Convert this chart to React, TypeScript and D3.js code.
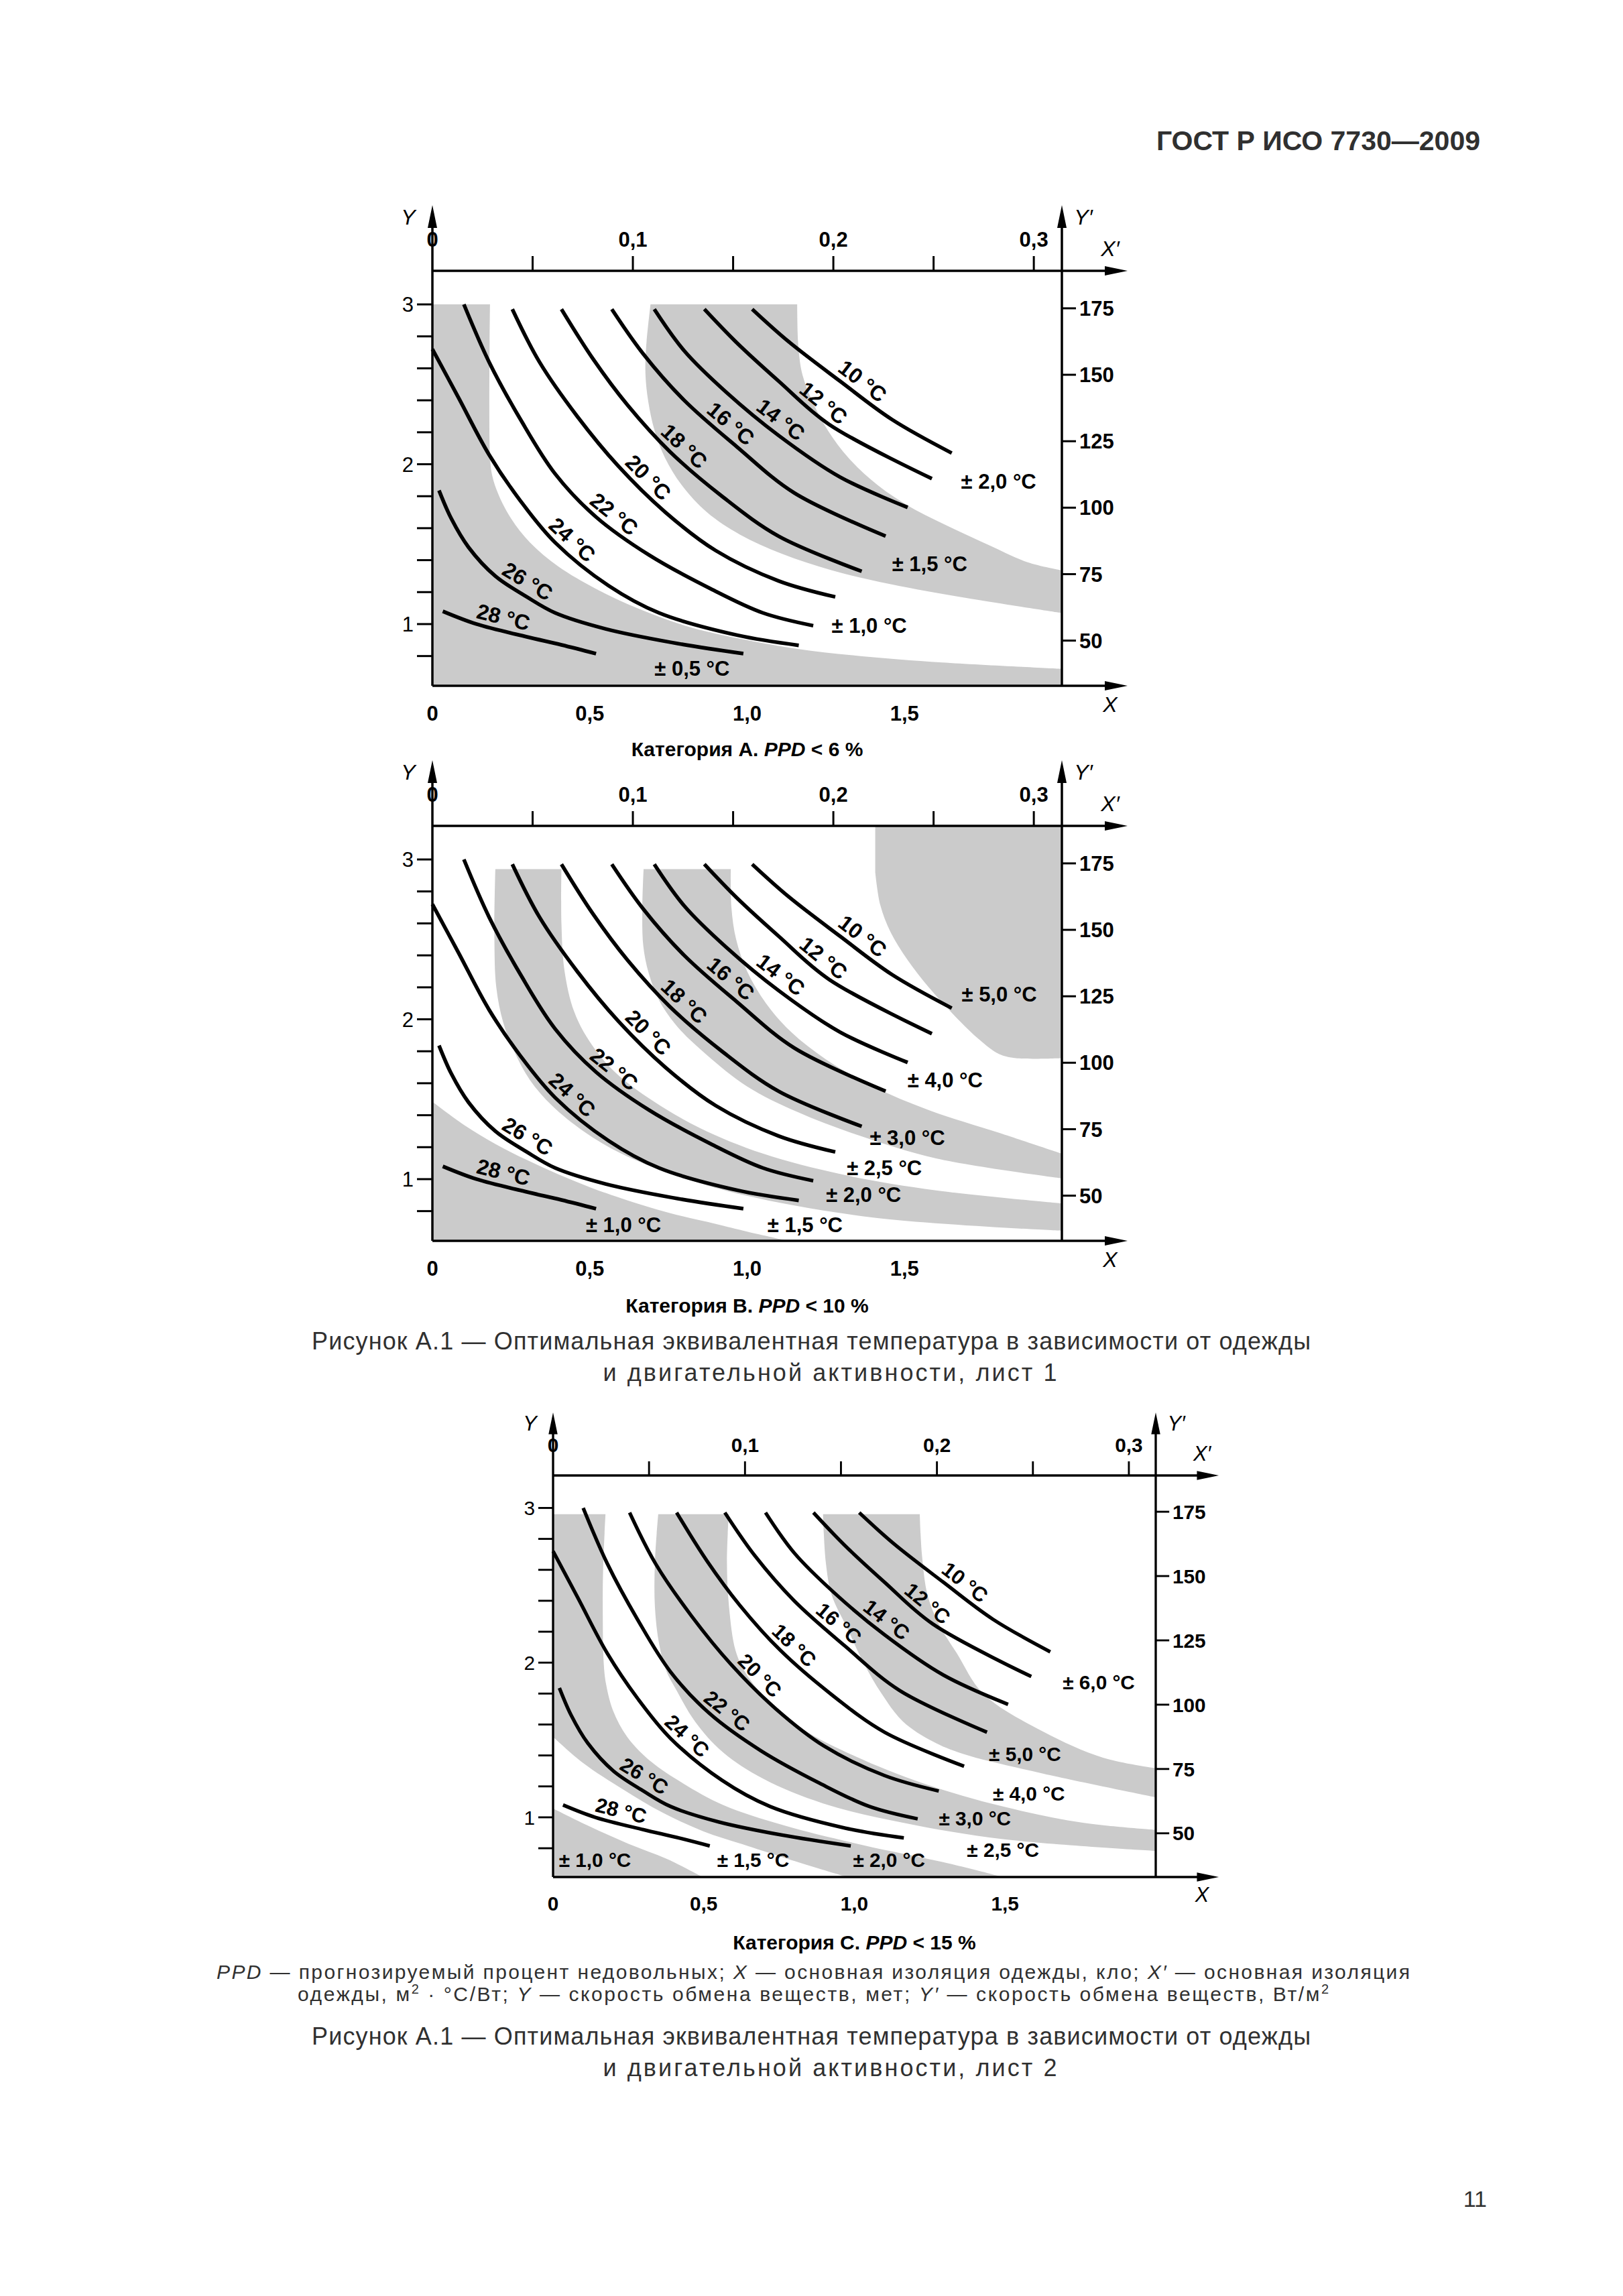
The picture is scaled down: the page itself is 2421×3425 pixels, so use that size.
import React, { useEffect, useRef } from 'react';
import * as d3 from 'd3';

type Pt = [number, number];

// ---- axis domains and ticks ----
const X_DOMAIN: Pt = [0, 2.0]; // clo
const Y_DOMAIN: Pt = [0.614, 3.21]; // met
const XP_DOMAIN: Pt = [0, 0.314]; // m2·°C/W
const YP_DOMAIN: Pt = [33.0, 189.1]; // W/m2
const yTicks = [0.8, 1.0, 1.2, 1.4, 1.6, 1.8, 2.0, 2.2, 2.4, 2.6, 2.8, 3.0];
const yTickLabels = [1, 2, 3];
const ypTicks = [50, 75, 100, 125, 150, 175];
const xTickLabels = [0, 0.5, 1.0, 1.5];
const xpTicks = [0.05, 0.1, 0.15, 0.2, 0.25, 0.3];
const xpTickLabels = [0, 0.1, 0.2, 0.3];

// ---- optimal operative temperature lines (clo, met) ----
const temperatures = [10, 12, 14, 16, 18, 20, 22, 24, 26, 28];
const curve10: Pt[] = [[1.016, 2.97], [1.13, 2.77], [1.295, 2.52], [1.46, 2.28], [1.65, 2.07]];
const curve12: Pt[] = [[0.864, 2.97], [0.967, 2.76], [1.1, 2.52], [1.26, 2.25], [1.587, 1.91]];
const curve14: Pt[] = [[0.705, 2.97], [0.8, 2.71], [0.934, 2.45], [1.1, 2.18], [1.295, 1.92], [1.51, 1.73]];
const curve16: Pt[] = [[0.57, 2.97], [0.67, 2.69], [0.8, 2.4], [0.967, 2.11], [1.15, 1.82], [1.44, 1.55]];
const curve18: Pt[] = [[0.41, 2.97], [0.51, 2.66], [0.62, 2.37], [0.754, 2.08], [0.92, 1.8], [1.1, 1.55], [1.364, 1.33]];
const curve20: Pt[] = [[0.254, 2.97], [0.34, 2.64], [0.46, 2.3], [0.59, 1.99], [0.74, 1.7], [0.9, 1.46], [1.1, 1.27], [1.28, 1.17]];
const curve22: Pt[] = [[0.1, 3.0], [0.18, 2.64], [0.28, 2.28], [0.39, 1.94], [0.52, 1.67], [0.69, 1.43], [0.885, 1.22], [1.05, 1.07], [1.21, 0.99]];
const curve24: Pt[] = [[0.0, 2.72], [0.082, 2.42], [0.18, 2.06], [0.28, 1.77], [0.39, 1.51], [0.56, 1.24], [0.72, 1.07], [0.97, 0.93], [1.164, 0.867]];
const curve26: Pt[] = [[0.021, 1.836], [0.06, 1.66], [0.115, 1.48], [0.2, 1.3], [0.3, 1.17], [0.39, 1.07], [0.55, 0.97], [0.76, 0.885], [0.988, 0.815]];
const curve28: Pt[] = [[0.033, 1.08], [0.14, 1.0], [0.3, 0.92], [0.41, 0.87], [0.52, 0.815]];
const tempCurves = [curve10, curve12, curve14, curve16, curve18, curve20, curve22, curve24, curve26, curve28];
// clo value on each line where its label sits
const tempLabelX = [1.34, 1.215, 1.08, 0.92, 0.77, 0.655, 0.55, 0.415, 0.28, 0.215];

// ---- shaded tolerance zones, category A ----
const a05Edge: Pt[] = [[0.183, 3.0], [0.183, 2.05], [0.19, 1.93], [0.21, 1.81], [0.25, 1.66], [0.31, 1.51], [0.4, 1.36], [0.52, 1.22], [0.65, 1.1], [0.82, 0.98], [1.0, 0.9], [1.16, 0.845], [1.36, 0.8], [1.62, 0.76], [2.0, 0.72]];
const a15Inner: Pt[] = [[0.693, 3.0], [0.679, 2.73], [0.677, 2.56], [0.686, 2.39], [0.706, 2.21], [0.739, 2.04], [0.792, 1.87], [0.872, 1.7], [0.977, 1.56], [1.11, 1.44], [1.269, 1.336], [1.454, 1.25], [1.693, 1.164], [2.0, 1.069]];
const a15Outer: Pt[] = [[1.159, 3.0], [1.163, 2.73], [1.176, 2.558], [1.209, 2.386], [1.256, 2.213], [1.322, 2.04], [1.415, 1.869], [1.52, 1.731], [1.64, 1.611], [1.772, 1.491], [1.891, 1.387], [2.0, 1.336]];

// ---- category B ----
const b10Edge: Pt[] = [[0.0, 1.484], [0.1, 1.34], [0.2, 1.22], [0.3, 1.12], [0.4, 1.03], [0.5, 0.95], [0.6, 0.88], [0.75, 0.79], [0.9, 0.72], [1.0, 0.672], [1.13, 0.614]];
const b20Inner: Pt[] = [[0.2, 2.94], [0.197, 2.5], [0.203, 2.2], [0.225, 1.98], [0.26, 1.8], [0.31, 1.62], [0.38, 1.46], [0.48, 1.3], [0.6, 1.16], [0.75, 1.04], [0.99, 0.9], [1.4, 0.76], [2.0, 0.677]];
const b20Outer: Pt[] = [[0.41, 2.94], [0.41, 2.6], [0.42, 2.3], [0.45, 2.05], [0.5, 1.86], [0.58, 1.67], [0.7, 1.49], [0.85, 1.32], [1.05, 1.16], [1.3, 1.03], [1.6, 0.93], [2.0, 0.848]];
const b30Inner: Pt[] = [[0.671, 2.94], [0.667, 2.7], [0.67, 2.46], [0.687, 2.29], [0.72, 2.12], [0.78, 1.95], [0.87, 1.78], [1.0, 1.58], [1.16, 1.42], [1.36, 1.27], [1.6, 1.13], [2.0, 1.005]];
const b30Outer: Pt[] = [[0.948, 2.94], [0.95, 2.7], [0.965, 2.5], [1.0, 2.3], [1.06, 2.1], [1.14, 1.92], [1.25, 1.75], [1.4, 1.58], [1.58, 1.43], [1.8, 1.29], [2.0, 1.159]];
const b50Edge: Pt[] = [[1.407, 2.92], [1.423, 2.715], [1.456, 2.544], [1.509, 2.373], [1.576, 2.202], [1.655, 2.031], [1.735, 1.877], [1.8, 1.783], [1.854, 1.757], [2.0, 1.757]];

// ---- category C ----
const c10Edge: Pt[] = [[0.0, 1.057], [0.119, 0.943], [0.249, 0.83], [0.379, 0.73], [0.496, 0.614]];
const c20Outer: Pt[] = [[0.174, 2.96], [0.166, 2.6], [0.165, 2.3], [0.168, 2.0], [0.176, 1.86], [0.199, 1.69], [0.246, 1.52], [0.325, 1.36], [0.431, 1.22], [0.564, 1.08], [0.763, 0.95], [1.029, 0.82], [1.294, 0.71], [1.493, 0.614]];
const c20Inner: Pt[] = [[0.0, 1.52], [0.1, 1.351], [0.232, 1.181], [0.365, 1.029], [0.498, 0.91], [0.63, 0.825], [0.763, 0.741], [0.975, 0.614]];
const c30Inner: Pt[] = [[0.349, 2.96], [0.338, 2.65], [0.338, 2.36], [0.352, 2.12], [0.375, 1.95], [0.41, 1.82], [0.471, 1.62], [0.564, 1.42], [0.697, 1.25], [0.896, 1.09], [1.161, 0.965], [1.493, 0.859], [2.0, 0.783]];
const c30Outer: Pt[] = [[0.583, 2.96], [0.577, 2.65], [0.584, 2.36], [0.606, 2.076], [0.64, 1.93], [0.71, 1.76], [0.829, 1.57], [1.002, 1.395], [1.228, 1.22], [1.493, 1.07], [1.758, 0.965], [2.0, 0.919]];
const c50Inner: Pt[] = [[0.896, 2.96], [0.905, 2.65], [0.925, 2.435], [0.977, 2.22], [1.03, 2.0], [1.09, 1.8], [1.161, 1.62], [1.26, 1.49], [1.36, 1.41], [1.626, 1.283], [2.0, 1.13]];
const c50Outer: Pt[] = [[1.217, 2.96], [1.224, 2.7], [1.243, 2.435], [1.28, 2.25], [1.34, 2.06], [1.427, 1.8], [1.626, 1.554], [1.825, 1.385], [2.0, 1.317]];

// ---- tolerance labels: text, clo, met ----
const tolA: [string, number, number][] = [
  ['± 0,5 °C', 0.825, 0.725], ['± 1,0 °C', 1.388, 0.991], ['± 1,5 °C', 1.58, 1.379], ['± 2,0 °C', 1.799, 1.895],
];
const tolB: [string, number, number][] = [
  ['± 1,0 °C', 0.607, 0.714], ['± 1,5 °C', 1.184, 0.714], ['± 2,0 °C', 1.37, 0.903], ['± 2,5 °C', 1.436, 1.073],
  ['± 3,0 °C', 1.509, 1.262], ['± 4,0 °C', 1.629, 1.621], ['± 5,0 °C', 1.801, 2.159],
];
const tolC: [string, number, number][] = [
  ['± 1,0 °C', 0.139, 0.724], ['± 1,5 °C', 0.664, 0.724], ['± 2,0 °C', 1.115, 0.724], ['± 2,5 °C', 1.493, 0.792],
  ['± 3,0 °C', 1.4, 0.995], ['± 4,0 °C', 1.579, 1.156], ['± 5,0 °C', 1.566, 1.41], ['± 6,0 °C', 1.811, 1.876],
];

type Part = { pts: Pt[]; smooth?: boolean };
const [yLo, yHi] = Y_DOMAIN;

const areasA: Part[][] = [
  [{ pts: [[0, yLo], [0, 3.0]] }, { pts: a05Edge, smooth: true }, { pts: [[2.0, yLo]] }],
  [{ pts: a15Inner, smooth: true }, { pts: a15Outer.slice().reverse(), smooth: true }],
];
const areasB: Part[][] = [
  [{ pts: [[0, yLo]] }, { pts: b10Edge, smooth: true }],
  [{ pts: b20Inner, smooth: true }, { pts: b20Outer.slice().reverse(), smooth: true }],
  [{ pts: b30Inner, smooth: true }, { pts: b30Outer.slice().reverse(), smooth: true }],
  [{ pts: [[1.407, yHi]] }, { pts: b50Edge, smooth: true }, { pts: [[2.0, yHi]] }],
];
const areasC: Part[][] = [
  [{ pts: [[0, yLo]] }, { pts: c10Edge, smooth: true }],
  [{ pts: [[0, 1.52], [0, 2.96]] }, { pts: c20Outer, smooth: true }, { pts: c20Inner.slice().reverse(), smooth: true }],
  [{ pts: c30Inner, smooth: true }, { pts: c30Outer.slice().reverse(), smooth: true }],
  [{ pts: c50Inner, smooth: true }, { pts: c50Outer.slice().reverse(), smooth: true }],
];

const FONT = '"Liberation Sans", Arial, Helvetica, sans-serif';
const GRAY = '#cbcbcb';

interface ChartCfg {
  id: string;
  left: number;
  top: number;
  width: number;
  height: number;
  k: number;
  areas: Part[][];
  tol: [string, number, number][];
  cat: string;
  ppd: string;
  titleY: number;
}

const charts: ChartCfg[] = [
  { id: 'a', left: 645, top: 404, width: 939, height: 619, k: 1, areas: areasA, tol: tolA, cat: 'Категория А. ', ppd: ' < 6 %', titleY: 1128 },
  { id: 'b', left: 645, top: 1232, width: 939, height: 619, k: 1, areas: areasB, tol: tolB, cat: 'Категория В. ', ppd: ' < 10 %', titleY: 1958 },
  { id: 'c', left: 825, top: 2201, width: 899, height: 599, k: 0.96, areas: areasC, tol: tolC, cat: 'Категория С. ', ppd: ' < 15 %', titleY: 2908 },
];

const fmt1 = (v: number) => (v === 0 ? '0' : d3.format('.1f')(v).replace('.', ','));

function areaPath(parts: Part[], x: d3.ScaleLinear<number, number>, y: d3.ScaleLinear<number, number>) {
  const smooth = d3.line<Pt>().x(d => x(d[0])).y(d => y(d[1])).curve(d3.curveCatmullRom.alpha(0.5));
  let d = '';
  parts.forEach(p => {
    if (p.smooth) {
      let s = smooth(p.pts) || '';
      if (d) s = 'L' + s.slice(1);
      d += s;
    } else {
      p.pts.forEach(q => {
        d += (d ? 'L' : 'M') + x(q[0]) + ',' + y(q[1]);
      });
    }
  });
  return d + 'Z';
}

function drawChart(svg: d3.Selection<SVGSVGElement, unknown, null, undefined>, cfg: ChartCfg) {
  const { left, top, width, height, k } = cfg;
  const right = left + width;
  const bottom = top + height;
  const x = d3.scaleLinear().domain(X_DOMAIN).range([left, right]);
  const y = d3.scaleLinear().domain(Y_DOMAIN).range([bottom, top]);
  const xp = d3.scaleLinear().domain(XP_DOMAIN).range([left, right]);
  const yp = d3.scaleLinear().domain(YP_DOMAIN).range([bottom, top]);

  const g = svg.append('g').attr('font-family', FONT);

  svg
    .append('defs')
    .append('clipPath')
    .attr('id', `clip-${cfg.id}`)
    .append('rect')
    .attr('x', left)
    .attr('y', top)
    .attr('width', width)
    .attr('height', height);

  // shaded zones
  const zones = g.append('g').attr('clip-path', `url(#clip-${cfg.id})`);
  cfg.areas.forEach(parts => {
    zones.append('path').attr('d', areaPath(parts, x, y)).attr('fill', GRAY);
  });

  // temperature lines
  const line = d3
    .line<Pt>()
    .x(d => x(d[0]))
    .y(d => y(d[1]))
    .curve(d3.curveCatmullRom.alpha(0.5));
  const paths = tempCurves.map(c =>
    g
      .append('path')
      .attr('d', line(c) || '')
      .attr('fill', 'none')
      .attr('stroke', '#000')
      .attr('stroke-width', 5.5 * k)
      .node() as SVGPathElement
  );

  // labels along the lines
  paths.forEach((node, i) => {
    const tx = x(tempLabelX[i]);
    const total = node.getTotalLength();
    let lo = 0;
    let hi = total;
    for (let n = 0; n < 40; n += 1) {
      const mid = (lo + hi) / 2;
      if (node.getPointAtLength(mid).x < tx) lo = mid;
      else hi = mid;
    }
    const p = node.getPointAtLength(lo);
    const p0 = node.getPointAtLength(Math.max(0, lo - 6));
    const p1 = node.getPointAtLength(Math.min(total, lo + 6));
    const th = Math.atan2(p1.y - p0.y, p1.x - p0.x);
    const off = 21 * k;
    const cx = p.x + Math.sin(th) * off;
    const cy = p.y - Math.cos(th) * off;
    g.append('text')
      .attr('transform', `translate(${cx},${cy}) rotate(${(th * 180) / Math.PI})`)
      .attr('text-anchor', 'middle')
      .attr('dy', '0.36em')
      .attr('font-size', 32 * k)
      .attr('font-weight', 'bold')
      .text(`${temperatures[i]} °C`);
  });

  // tolerance labels
  cfg.tol.forEach(([t, cx, cy]) => {
    g.append('text')
      .attr('x', x(cx))
      .attr('y', y(cy))
      .attr('dy', '0.36em')
      .attr('text-anchor', 'middle')
      .attr('font-size', 31 * k)
      .attr('font-weight', 'bold')
      .text(t);
  });

  // axes lines and arrows
  const ext = 98 * k;
  const axis = g.append('g').attr('stroke', '#000').attr('stroke-width', 3.5 * k).attr('fill', 'none');
  axis.append('line').attr('x1', left).attr('x2', right + ext - 20 * k).attr('y1', top).attr('y2', top);
  axis.append('line').attr('x1', left).attr('x2', right + ext - 20 * k).attr('y1', bottom).attr('y2', bottom);
  axis.append('line').attr('x1', left).attr('x2', left).attr('y1', bottom).attr('y2', top - ext + 20 * k);
  axis.append('line').attr('x1', right).attr('x2', right).attr('y1', bottom).attr('y2', top - ext + 20 * k);
  const aL = 34 * k;
  const aW = 7 * k;
  const arrows: [number, number, string][] = [
    [right + ext, top, 'r'],
    [right + ext, bottom, 'r'],
    [left, top - ext, 'u'],
    [right, top - ext, 'u'],
  ];
  arrows.forEach(([ax, ay, dir]) => {
    const pts = dir === 'r'
      ? [[ax, ay], [ax - aL, ay - aW], [ax - aL, ay + aW]]
      : [[ax, ay], [ax - aW, ay + aL], [ax + aW, ay + aL]];
    g.append('polygon').attr('points', pts.map(q => q.join(',')).join(' ')).attr('fill', '#000');
  });

  // left Y ticks
  const tk = g.append('g').attr('stroke', '#000').attr('stroke-width', 3 * k);
  yTicks.forEach(t => {
    tk.append('line').attr('x1', left - 23 * k).attr('x2', left).attr('y1', y(t)).attr('y2', y(t));
  });
  yTickLabels.forEach(t => {
    g.append('text')
      .attr('x', left - 28 * k)
      .attr('y', y(t))
      .attr('dy', '0.36em')
      .attr('text-anchor', 'end')
      .attr('font-size', 31 * k)
      .text(String(t));
  });
  // right Y' ticks
  ypTicks.forEach(t => {
    tk.append('line').attr('x1', right).attr('x2', right + 21 * k).attr('y1', yp(t)).attr('y2', yp(t));
    g.append('text')
      .attr('x', right + 26 * k)
      .attr('y', yp(t))
      .attr('dy', '0.36em')
      .attr('font-size', 31 * k)
      .attr('font-weight', 'bold')
      .text(String(t));
  });
  // top X' ticks
  xpTicks.forEach(t => {
    tk.append('line').attr('x1', xp(t)).attr('x2', xp(t)).attr('y1', top).attr('y2', top - 22 * k);
  });
  xpTickLabels.forEach(t => {
    g.append('text')
      .attr('x', xp(t))
      .attr('y', top - 36 * k)
      .attr('text-anchor', 'middle')
      .attr('font-size', 31 * k)
      .attr('font-weight', 'bold')
      .text(fmt1(t));
  });
  // bottom X labels
  xTickLabels.forEach(t => {
    g.append('text')
      .attr('x', x(t))
      .attr('y', bottom + 52 * k)
      .attr('text-anchor', 'middle')
      .attr('font-size', 31 * k)
      .attr('font-weight', 'bold')
      .text(fmt1(t));
  });

  // axis names
  const names: [string, number, number][] = [
    ['Y', left - 36 * k, top - 81 * k],
    ['Y′', right + 32 * k, top - 81 * k],
    ['X′', right + 72 * k, top - 34 * k],
    ['X', right + 72 * k, bottom + 27 * k],
  ];
  names.forEach(([t, nx, ny]) => {
    g.append('text')
      .attr('x', nx)
      .attr('y', ny)
      .attr('dy', '0.36em')
      .attr('text-anchor', 'middle')
      .attr('font-size', 32 * k)
      .attr('font-style', 'italic')
      .text(t);
  });

  // title
  const title = g
    .append('text')
    .attr('x', (left + right) / 2)
    .attr('y', cfg.titleY)
    .attr('text-anchor', 'middle')
    .attr('font-size', 30)
    .attr('font-weight', 'bold');
  title.append('tspan').text(cfg.cat);
  title.append('tspan').attr('font-style', 'italic').text('PPD');
  title.append('tspan').text(cfg.ppd);
}

type Seg = { t: string; i?: boolean; sup?: boolean };
const legend1: Seg[] = [
  { t: 'PPD', i: true }, { t: ' — прогнозируемый процент недовольных; ' }, { t: 'X', i: true },
  { t: ' — основная изоляция одежды, кло; ' }, { t: 'X′', i: true }, { t: ' — основная изоляция' },
];
const legend2: Seg[] = [
  { t: 'одежды, м' }, { t: '2', sup: true }, { t: ' · °С/Вт; ' }, { t: 'Y', i: true },
  { t: ' — скорость обмена веществ, мет; ' }, { t: 'Y′', i: true }, { t: ' — скорость обмена веществ, Вт/м' }, { t: '2', sup: true },
];
const caption1 = 'Рисунок А.1 — Оптимальная эквивалентная температура в зависимости от одежды';
const caption2a = 'и двигательной активности, лист 1';
const caption2b = 'и двигательной активности, лист 2';

export default function App() {
  const ref = useRef<SVGSVGElement>(null);

  useEffect(() => {
    if (!ref.current) return;
    const svg = d3.select(ref.current);
    svg.selectAll('*').remove();
    svg.append('rect').attr('width', 2421).attr('height', 3425).attr('fill', '#fff');

    charts.forEach(c => drawChart(svg, c));

    const txt = svg.append('g').attr('font-family', FONT).attr('fill', '#303030');
    txt.append('text')
      .attr('x', 2208)
      .attr('y', 224)
      .attr('text-anchor', 'end')
      .attr('font-size', 41)
      .attr('font-weight', 'bold')
      .text('ГОСТ Р ИСО 7730—2009');

    const centered = (t: string, cx: number, by: number, w: number) =>
      txt.append('text')
        .attr('x', cx - w / 2)
        .attr('y', by)
        .attr('font-size', 36)
        .attr('textLength', w)
        .attr('lengthAdjust', 'spacing')
        .text(t);
    centered(caption1, 1210, 2013, 1490);
    centered(caption2a, 1238, 2060, 677);
    centered(caption1, 1210, 3050, 1490);
    centered(caption2b, 1238, 3097, 677);

    const legendLine = (segs: Seg[], lx: number, by: number, w: number) => {
      const t = txt.append('text')
        .attr('x', lx)
        .attr('y', by)
        .attr('font-size', 30)
        .attr('textLength', w)
        .attr('lengthAdjust', 'spacing');
      segs.forEach(s => {
        const ts = t.append('tspan').text(s.t);
        if (s.i) ts.attr('font-style', 'italic');
        if (s.sup) ts.attr('font-size', 20).attr('baseline-shift', '55%');
      });
    };
    legendLine(legend1, 323, 2952, 1780);
    legendLine(legend2, 444, 2985, 1538);

    txt.append('text')
      .attr('x', 2218)
      .attr('y', 3292)
      .attr('text-anchor', 'end')
      .attr('font-size', 34)
      .text('11');
  }, []);

  return (
    <svg
      ref={ref}
      width={2421}
      height={3425}
      viewBox="0 0 2421 3425"
      style={{ position: 'absolute', left: 0, top: 0, display: 'block' }}
    />
  );
}
